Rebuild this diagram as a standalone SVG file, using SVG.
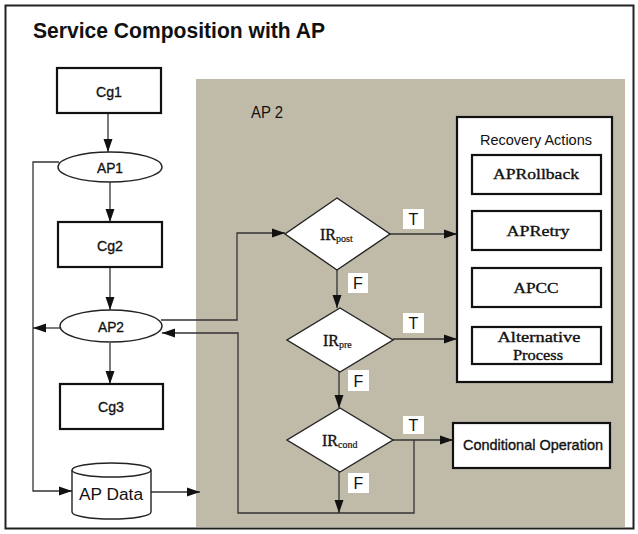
<svg xmlns="http://www.w3.org/2000/svg" width="638" height="534" viewBox="0 0 638 534">
<style>
.sans{font-family:"Liberation Sans",Arial,sans-serif;fill:#111}
.heavy{stroke:#111;stroke-width:0.35}
.serif{font-family:"Liberation Serif","Times New Roman",serif;fill:#111;stroke:#111;stroke-width:0.35}
.box{fill:#fff;stroke:#111;stroke-width:2.2}
.thin{fill:#fff;stroke:#222;stroke-width:1.4}
.conn{fill:none;stroke:#333;stroke-width:1.3}
.lab{fill:#fff;stroke:none}
</style>
<defs>
<marker id="ah" markerUnits="userSpaceOnUse" markerWidth="14" markerHeight="10" refX="13" refY="5" orient="auto">
<path d="M0,0.5 L13,5 L0,9.5 z" fill="#111"/>
</marker>
</defs>
<rect x="0" y="0" width="638" height="534" fill="#fff"/>
<rect x="5.5" y="5.5" width="628" height="523" fill="none" stroke="#222" stroke-width="2"/>
<g id="title"><text class="sans" x="33" y="38" font-size="22" font-weight="bold" textLength="292" lengthAdjust="spacingAndGlyphs">Service Composition with AP</text></g>
<g id="ap2-region">
<rect x="196" y="79" width="429" height="448" fill="#c0baa8"/>
<text class="sans" x="251" y="118" font-size="16" textLength="32" lengthAdjust="spacingAndGlyphs">AP 2</text>
</g>
<g id="connectors">
<path class="conn" d="M108,113 V152" marker-end="url(#ah)"/>
<path class="conn" d="M110,182 V222" marker-end="url(#ah)"/>
<path class="conn" d="M110,267 V310" marker-end="url(#ah)"/>
<path class="conn" d="M110,343 V384" marker-end="url(#ah)"/>
<path class="conn" d="M59,162 H33 V491 H72" marker-end="url(#ah)"/>
<path class="conn" d="M60,328 H33" marker-end="url(#ah)"/>
<path class="conn" d="M161,320 H237 V233 H285" marker-end="url(#ah)"/>
<path class="conn" d="M414,440 V513 H238 V333 H162" marker-end="url(#ah)"/>
<path class="conn" d="M151,492 H200" marker-end="url(#ah)"/>
<path class="conn" d="M390,234 H457" marker-end="url(#ah)"/>
<path class="conn" d="M337,270 V308" marker-end="url(#ah)"/>
<path class="conn" d="M393,339 H457" marker-end="url(#ah)"/>
<path class="conn" d="M339,372 V408" marker-end="url(#ah)"/>
<path class="conn" d="M393,440 H453" marker-end="url(#ah)"/>
<path class="conn" d="M339,472 V513" marker-end="url(#ah)"/>
</g>
<g id="cg1"><rect class="box" x="57" y="68" width="104" height="45"/><text class="sans heavy" x="109" y="97" font-size="15" text-anchor="middle" textLength="26" lengthAdjust="spacingAndGlyphs">Cg1</text></g>
<g id="ap1"><ellipse class="thin" cx="110" cy="167" rx="52" ry="15"/><text class="sans heavy" x="110" y="173" font-size="15" text-anchor="middle" textLength="26" lengthAdjust="spacingAndGlyphs">AP1</text></g>
<g id="cg2"><rect class="box" x="58" y="222" width="104" height="45"/><text class="sans heavy" x="110" y="251" font-size="15" text-anchor="middle" textLength="26" lengthAdjust="spacingAndGlyphs">Cg2</text></g>
<g id="ap2"><ellipse class="thin" cx="111" cy="326" rx="51" ry="16"/><text class="sans heavy" x="111" y="332" font-size="15" text-anchor="middle" textLength="26" lengthAdjust="spacingAndGlyphs">AP2</text></g>
<g id="cg3"><rect class="box" x="60" y="384" width="103" height="45"/><text class="sans heavy" x="111" y="412" font-size="15" text-anchor="middle" textLength="26" lengthAdjust="spacingAndGlyphs">Cg3</text></g>
<g id="apdata">
<path class="thin" d="M72,470 V512 A39.5,7 0 0 0 151,512 V470"/>
<ellipse class="thin" cx="111.5" cy="470" rx="39.5" ry="7"/>
<text class="sans" x="111" y="500" font-size="16" text-anchor="middle" textLength="64" lengthAdjust="spacingAndGlyphs">AP Data</text>
</g>
<g id="irpost"><polygon class="thin" points="337,198 390,234 337,270 285,234"/><text class="serif" x="320" y="240" font-size="16">IR<tspan font-size="10" dy="2" stroke-width="0.2">post</tspan></text></g>
<g id="irpre"><polygon class="thin" points="340,308 393,340 340,372 287,340"/><text class="serif" x="323" y="346" font-size="16">IR<tspan font-size="10" dy="2" stroke-width="0.2">pre</tspan></text></g>
<g id="ircond"><polygon class="thin" points="340,408 393,440 340,472 287,440"/><text class="serif" x="322" y="446" font-size="16">IR<tspan font-size="10" dy="2" stroke-width="0.2">cond</tspan></text></g>
<g id="labels" class="sans" font-size="16" text-anchor="middle">
<rect class="lab" x="403" y="209" width="21" height="20"/><text x="413.5" y="225">T</text>
<rect class="lab" x="348" y="273" width="20" height="20"/><text x="358" y="289">F</text>
<rect class="lab" x="403" y="313" width="21" height="20"/><text x="413.5" y="329">T</text>
<rect class="lab" x="348" y="370" width="21" height="21"/><text x="358.5" y="387">F</text>
<rect class="lab" x="403" y="416" width="21" height="18"/><text x="413.5" y="431">T</text>
<rect class="lab" x="348" y="473" width="21" height="20"/><text x="358.5" y="489">F</text>
</g>
<g id="recovery">
<rect class="box" x="457" y="117" width="155" height="265" stroke-width="2.6"/>
<text class="sans" x="536" y="145" font-size="15" text-anchor="middle" textLength="112" lengthAdjust="spacingAndGlyphs">Recovery Actions</text>
</g>
<g id="aprollback"><rect class="box" x="472" y="155" width="129" height="39" stroke-width="1.8"/><text class="serif" x="536" y="179" font-size="15" text-anchor="middle" textLength="86" lengthAdjust="spacingAndGlyphs">APRollback</text></g>
<g id="apretry"><rect class="box" x="472" y="211" width="129" height="39" stroke-width="1.8"/><text class="serif" x="538" y="236" font-size="15" text-anchor="middle" textLength="63" lengthAdjust="spacingAndGlyphs">APRetry</text></g>
<g id="apcc"><rect class="box" x="472" y="268" width="129" height="39" stroke-width="1.8"/><text class="serif" x="536" y="293" font-size="15" text-anchor="middle" textLength="45" lengthAdjust="spacingAndGlyphs">APCC</text></g>
<g id="altprocess"><rect class="box" x="472" y="327" width="129" height="37" stroke-width="1.8"/><text class="serif" x="539" y="342" font-size="15" text-anchor="middle" textLength="83" lengthAdjust="spacingAndGlyphs">Alternative</text><text class="serif" x="538" y="360" font-size="15" text-anchor="middle" textLength="50" lengthAdjust="spacingAndGlyphs">Process</text></g>
<g id="condop"><rect class="box" x="453" y="423" width="157" height="45" stroke-width="2.6"/><text class="sans heavy" x="533" y="450" font-size="15" text-anchor="middle" textLength="140" lengthAdjust="spacingAndGlyphs">Conditional Operation</text></g>
</svg>
